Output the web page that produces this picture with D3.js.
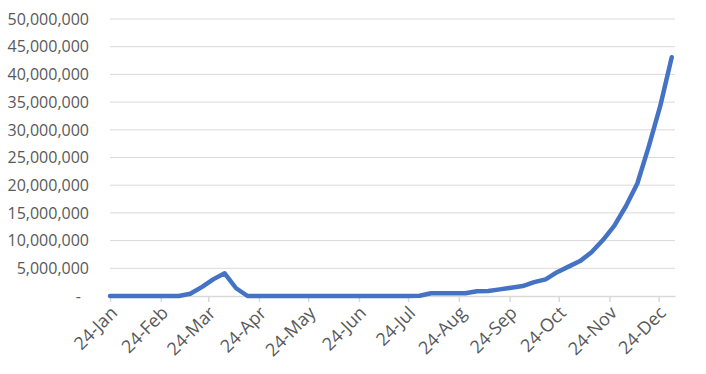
<!DOCTYPE html>
<html>
<head>
<meta charset="utf-8">
<script src="https://cdn.jsdelivr.net/npm/d3@7"></script>
<style>
  body { margin: 0; background: #fff; }
  text { font-family: "Open Sans", "Noto Sans", sans-serif; fill: #595959; }
</style>
</head>
<body>
<div id="chart"></div>
<script>
// weekly series, first point 24-Jan-2020
const startDate = new Date(2020, 0, 24);
const values = [
  0, 0, 0, 0, 0, 0, 0, 400000, 1600000, 3000000,
  4100000, 1400000, 0, 0, 0, 0, 0, 0, 0, 0,
  0, 0, 0, 0, 0, 0, 0, 50000, 500000, 500000,
  500000, 500000, 850000, 900000, 1200000, 1500000, 1800000, 2500000, 3000000, 4300000,
  5300000, 6300000, 7900000, 10100000, 12700000, 16200000, 20300000, 27000000, 34300000, 43100000
];
const yTicks = [0, 5e6, 10e6, 15e6, 20e6, 25e6, 30e6, 35e6, 40e6, 45e6, 50e6];
const xTickLabels = ['24-Jan', '24-Feb', '24-Mar', '24-Apr', '24-May', '24-Jun',
  '24-Jul', '24-Aug', '24-Sep', '24-Oct', '24-Nov', '24-Dec'];

const width = 706, height = 374;
const margin = {left: 110, right: 31, top: 19, bottom: 78};

const data = values.map((v, i) => ({date: d3.timeDay.offset(startDate, i * 7), value: v}));
const xTicks = xTickLabels.map((d, i) => new Date(2020, i, 24));

const svg = d3.select('#chart').append('svg')
  .attr('width', width).attr('height', height);

const x = d3.scaleTime()
  .domain([startDate, new Date(2021, 0, 3)])
  .range([margin.left, width - margin.right]);

const y = d3.scaleLinear()
  .domain([0, 50e6])
  .range([height - margin.bottom, margin.top]);

const fmt = d3.format(',');

// gridlines
svg.append('g')
  .selectAll('line')
  .data(yTicks.filter(d => d > 0))
  .enter().append('line')
    .attr('x1', x.range()[0]).attr('x2', x.range()[1])
    .attr('y1', d => y(d)).attr('y2', d => y(d))
    .attr('stroke', '#d9d9d9').attr('stroke-width', 1);

// y labels
svg.append('g')
  .selectAll('text')
  .data(yTicks)
  .enter().append('text')
    .attr('x', d => d === 0 ? 81 : 89)
    .attr('y', d => y(d))
    .attr('dy', '0.36em')
    .attr('text-anchor', 'end')
    .style('font-size', '16px')
    .text(d => d === 0 ? '-' : fmt(d));

// x axis
const xAxis = d3.axisBottom(x)
  .tickValues(xTicks)
  .tickSize(6)
  .tickSizeOuter(0)
  .tickFormat((d, i) => xTickLabels[i]);

const gx = svg.append('g')
  .attr('transform', `translate(0,${y(0)})`)
  .call(xAxis);

gx.select('.domain').attr('stroke', '#d9d9d9').attr('stroke-width', 1.5);
gx.selectAll('.tick line').attr('stroke', '#d9d9d9').attr('stroke-width', 1.5);
gx.selectAll('.tick text')
  .attr('y', 0).attr('dy', 0)
  .attr('transform', 'translate(8,18) rotate(-45)')
  .attr('text-anchor', 'end')
  .style('font-size', '18px')
  .style('font-family', '"Open Sans", "Noto Sans", sans-serif')
  .attr('fill', '#595959');

// line
const line = d3.line()
  .x(d => x(d.date))
  .y(d => y(d.value));

svg.append('path')
  .datum(data)
  .attr('fill', 'none')
  .attr('stroke', '#4472c4')
  .attr('stroke-width', 4.5)
  .attr('stroke-linejoin', 'round')
  .attr('stroke-linecap', 'round')
  .attr('d', line);
</script>
</body>
</html>
